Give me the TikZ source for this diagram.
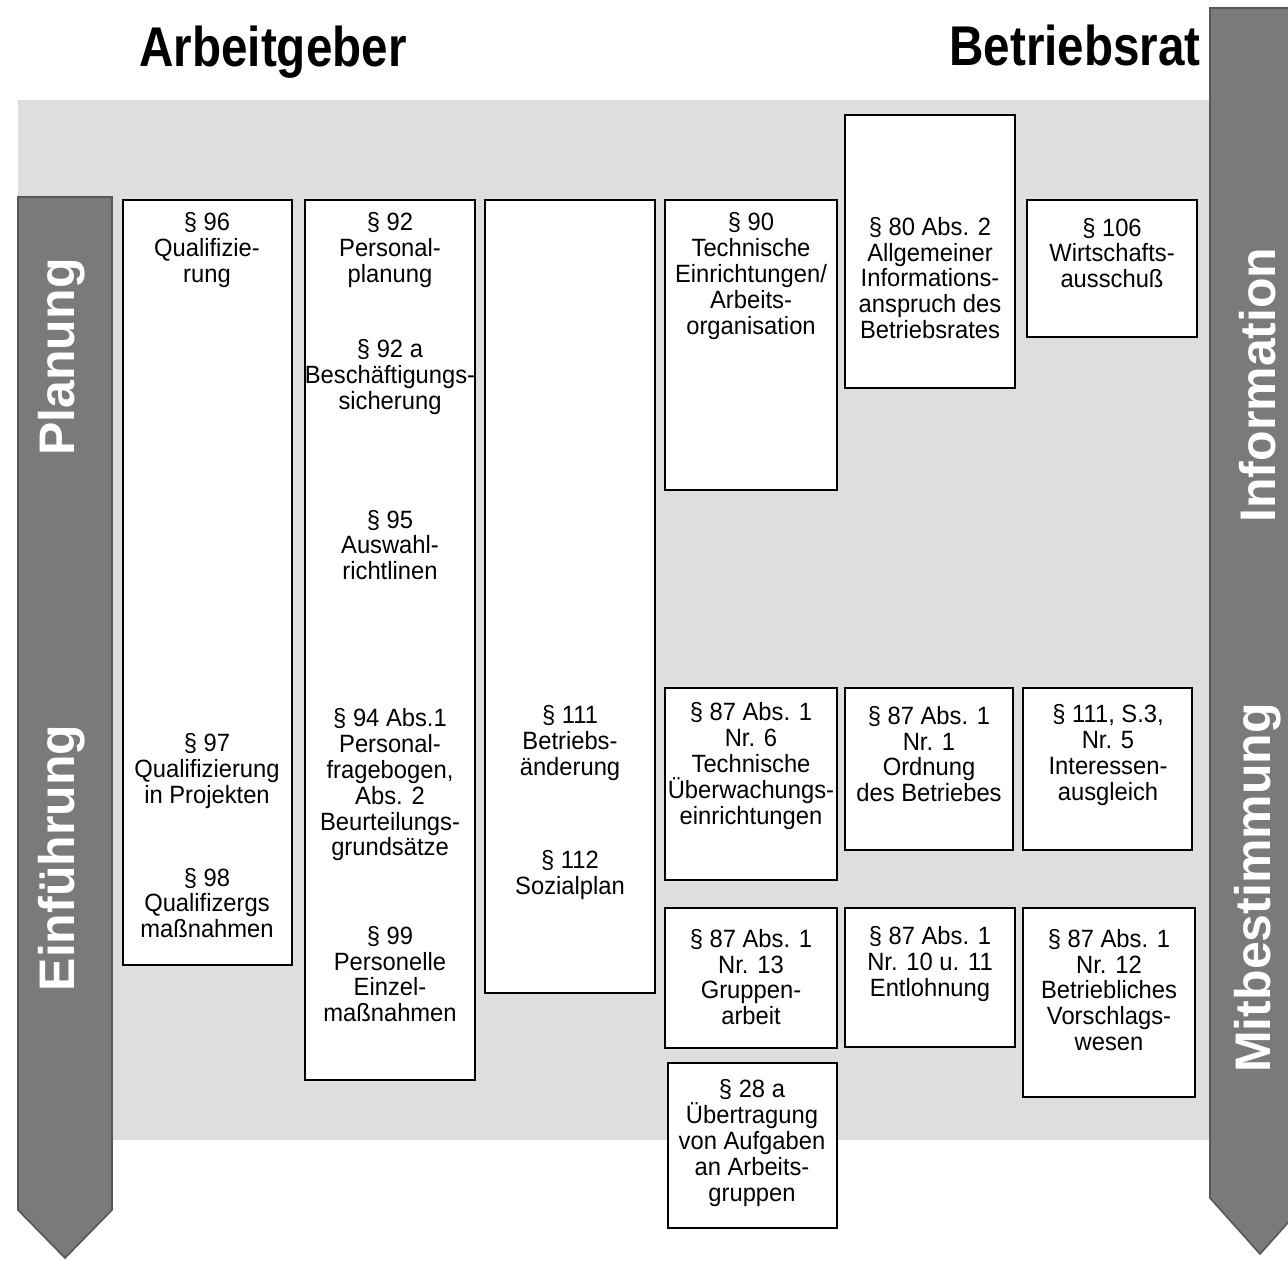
\documentclass[tikz,border=0pt]{standalone}
\usepackage{fontspec}
\setmainfont[FakeStretch=0.95]{Liberation Sans}
\newfontfamily\headfont[FakeStretch=0.85]{Liberation Sans}
\newfontfamily\sidefont{Liberation Sans}
\usetikzlibrary{backgrounds}
\definecolor{bandgray}{gray}{0.87}
\definecolor{bargray}{gray}{0.48}
\definecolor{bardark}{gray}{0.34}
\newcommand{\lawbox}[4]{% #1,#2=upper-left #3,#4=lower-right (px)
  \draw[boxline] (#1,#2) rectangle (#3,#4);}

\begin{document}
\begin{tikzpicture}[
  x=0.5pt, y=-0.5pt,
  font=\fontsize{12.5}{12.9}\selectfont,
  boxline/.style={draw=black, fill=white, line width=1.1pt},
  para/.style={align=center, inner sep=0pt},
  side/.style={font=\sidefont\fontsize{25}{25}\selectfont\bfseries, text=white, rotate=90, inner sep=0pt},
  head/.style={font=\headfont\fontsize{28}{28}\selectfont\bfseries, inner sep=0pt},
  bar/.style={fill=bargray, draw=bardark, line width=0.8pt},
]
\useasboundingbox (0,0) rectangle (1288,1260);
\clip (0,0) rectangle (1288,1260);

% ---------- BACKGROUND BAND ----------
\fill[bandgray] (18,100) rectangle (1210,1140);

% ---------- SIDE ARROWS ----------
\draw[bar] (18,197) -- (112,197) -- (112,1210) -- (65,1258) -- (18,1210) -- cycle;
\draw[bar] (1210,8) -- (1310,8) -- (1310,1198) -- (1260,1254) -- (1210,1198) -- cycle;
\node[side] (planung) at (62,357) {Planung};
\node[side] (einfuehrung) at (62,858) {Einführung};
\node[side] (information) at (1258,385) {Information};
\node[side] (mitbestimmung) at (1258,888) {Mitbestimmung};

% ---------- TITLES ----------
\node[head] (arbeitgeber) at (273,52) {Arbeitgeber};
\node[head] (betriebsrat) at (1075,45) {Betriebsrat};

% ---------- ARBEITGEBER COLUMNS ----------
\lawbox{123}{200}{292}{965}
\node[para] (p96) at (207,250) {§ 96\\Qualifizie-\\rung};
\node[para] (p97) at (207,771) {§ 97\\Qualifizierung\\in Projekten};
\node[para] (p98) at (207,903) {§ 98\\Qualifizergs\\maßnahmen};

\lawbox{305}{200}{475}{1080}
\node[para] (p92) at (390,250) {§ 92\\Personal-\\planung};
\node[para] (p92a) at (390,377) {§ 92 a\\Beschäftigungs-\\sicherung};
\node[para] (p95) at (390,545) {§ 95\\Auswahl-\\richtlinen};
\node[para] (p94) at (390,785) {§ 94 Abs.1\\Personal-\\fragebogen,\\Abs. 2\\Beurteilungs-\\grundsätze};
\node[para] (p99) at (390,974) {§ 99\\Personelle\\Einzel-\\maßnahmen};

\lawbox{485}{200}{655}{993}
\node[para] (p111) at (570,743) {§ 111\\Betriebs-\\änderung};
\node[para] (p112) at (570,875) {§ 112\\Sozialplan};

% ---------- BETRIEBSRAT: INFORMATION ----------
\lawbox{665}{200}{837}{490}
\node[para] (p90) at (751,276) {§ 90\\Technische\\Einrichtungen/\\Arbeits-\\organisation};

\lawbox{845}{115}{1015}{388}
\node[para] (p80) at (930,278) {§ 80 Abs. 2\\Allgemeiner\\Informations-\\anspruch des\\Betriebsrates};

\lawbox{1027}{200}{1197}{337}
\node[para] (p106) at (1112,253) {§ 106\\Wirtschafts-\\ausschuß};

% ---------- BETRIEBSRAT: MITBESTIMMUNG ----------
\lawbox{665}{688}{837}{880}
\node[para] (p87n6) at (751,766) {§ 87 Abs. 1\\Nr. 6\\Technische\\Überwachungs-\\einrichtungen};

\lawbox{845}{688}{1013}{850}
\node[para] (p87n1) at (929,754) {§ 87 Abs. 1\\Nr. 1\\Ordnung\\des Betriebes};

\lawbox{1023}{688}{1192}{850}
\node[para] (p111s3) at (1108,755) {§ 111, S.3,\\Nr. 5\\Interessen-\\ausgleich};

\lawbox{665}{908}{837}{1048}
\node[para] (p87n13) at (751,977) {§ 87 Abs. 1\\Nr. 13\\Gruppen-\\arbeit};

\lawbox{845}{908}{1015}{1047}
\node[para] (p87n10) at (930,964) {§ 87 Abs. 1\\Nr. 10 u. 11\\Entlohnung};

\lawbox{1023}{908}{1195}{1097}
\node[para] (p87n12) at (1109,990) {§ 87 Abs. 1\\Nr. 12\\Betriebliches\\Vorschlags-\\wesen};

\lawbox{668}{1063}{837}{1228}
\node[para] (p28a) at (752,1143) {§ 28 a\\Übertragung\\von Aufgaben\\an Arbeits-\\gruppen};

\end{tikzpicture}
\end{document}
